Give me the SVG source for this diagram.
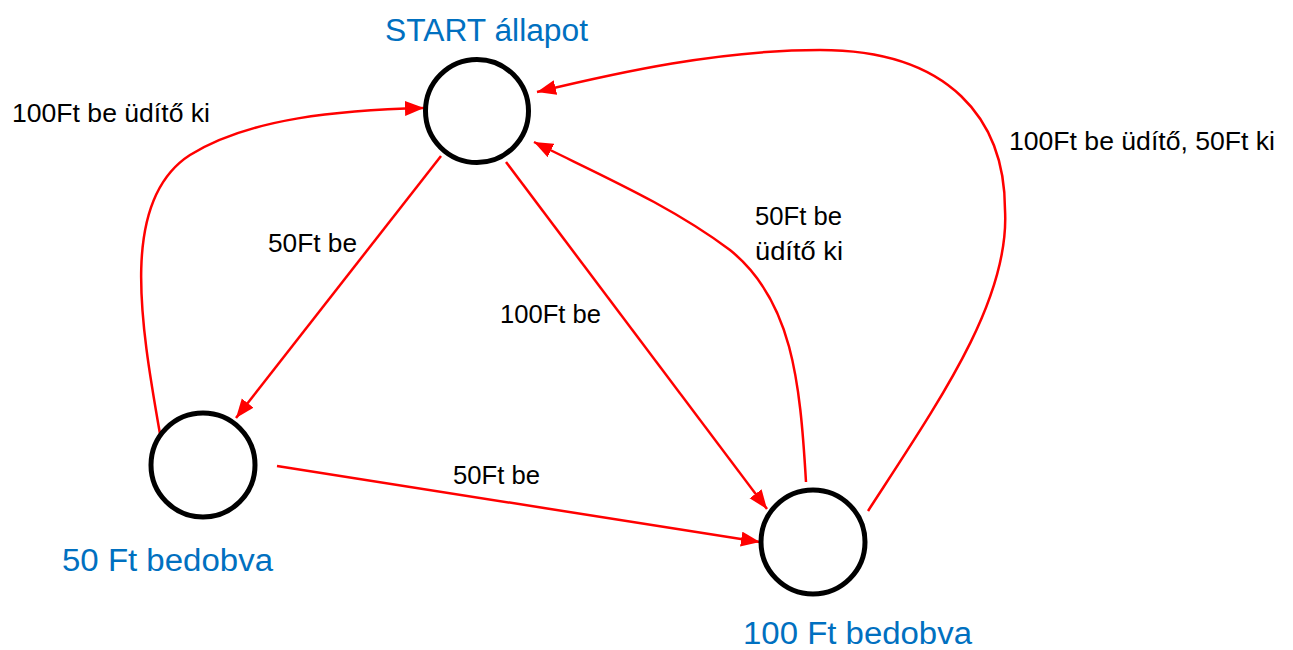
<svg xmlns="http://www.w3.org/2000/svg" width="1293" height="650" viewBox="0 0 1293 650">
<style>
.node{fill:#fff;stroke:#000;stroke-width:5}
.title{font-family:"Liberation Sans",Arial,sans-serif;font-size:31px;fill:#0070C0}
.lbl{font-family:"Liberation Sans",Arial,sans-serif;font-size:25.5px;fill:#000}
.edge{fill:none;stroke:#FF0000;stroke-width:2.5}
</style>
<defs>
<marker id="arr" markerUnits="userSpaceOnUse" markerWidth="20" markerHeight="16" refX="19" refY="7.5" orient="auto">
<path d="M0,0 L19,7.5 L0,15 z" fill="#FF0000"/>
</marker>
</defs>
<rect width="1293" height="650" fill="#fff"/>
<g id="connectors">
<path class="edge" marker-end="url(#arr)" d="M441,156 L236,418"/>
<path class="edge" marker-end="url(#arr)" d="M506,162 L767,509"/>
<path class="edge" marker-end="url(#arr)" d="M277,466 L760,542"/>
<path class="edge" marker-end="url(#arr)" d="M160,434 C140,320 120,200 190,155 C250,118 340,110 424,108"/>
<path class="edge" marker-end="url(#arr)" d="M806,482 C800,380 792,300 730,250 C670,205 600,175 534,142"/>
<path class="edge" marker-end="url(#arr)" d="M868,511 C940,400 1010,300 1005,210 C1005,120 950,50 820,50 C720,50 620,72 537,92"/>
<text class="lbl" x="268" y="252" textLength="89" lengthAdjust="spacingAndGlyphs">50Ft be</text>
<text class="lbl" x="500" y="323" textLength="101" lengthAdjust="spacingAndGlyphs">100Ft be</text>
<text class="lbl" x="453" y="484" textLength="87" lengthAdjust="spacingAndGlyphs">50Ft be</text>
<text class="lbl" x="12" y="122" textLength="198" lengthAdjust="spacingAndGlyphs">100Ft be üdítő ki</text>
<text class="lbl" x="755" y="225" textLength="87" lengthAdjust="spacingAndGlyphs">50Ft be</text>
<text class="lbl" x="755" y="260" textLength="88" lengthAdjust="spacingAndGlyphs">üdítő ki</text>
<text class="lbl" x="1009" y="150" textLength="266" lengthAdjust="spacingAndGlyphs">100Ft be üdítő, 50Ft ki</text>
</g>
<g id="start">
<circle class="node" cx="477" cy="111" r="51.5"/>
<text class="title" x="385" y="41" textLength="203" lengthAdjust="spacingAndGlyphs">START állapot</text>
</g>
<g id="ft50">
<circle class="node" cx="203" cy="465" r="52"/>
<text class="title" x="62" y="571" textLength="211" lengthAdjust="spacingAndGlyphs">50 Ft bedobva</text>
</g>
<g id="ft100">
<circle class="node" cx="813" cy="542" r="52"/>
<text class="title" x="743" y="644" textLength="229" lengthAdjust="spacingAndGlyphs">100 Ft bedobva</text>
</g>
</svg>
